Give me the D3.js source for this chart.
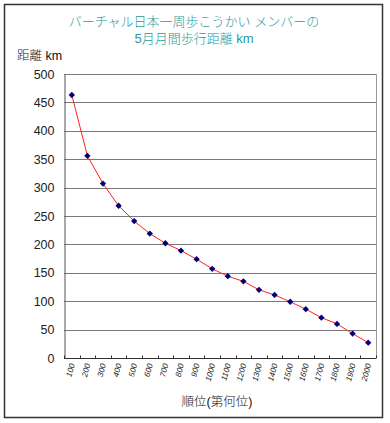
<!DOCTYPE html>
<html><head><meta charset="utf-8">
<script src="https://cdn.jsdelivr.net/npm/d3@7"></script>
<style>body{margin:0;background:#fff}svg{display:block}</style>
</head><body>
<script>
const ranks = ["100","200","300","400","500","600","700","800","900","1000","1100","1200","1300","1400","1500","1600","1700","1800","1900","2000"];
const distances = [463,356,307,268,241,219,202,189,174,157,144,135,120,111,99,86,71,60,43,27];
const yTicks = [0,50,100,150,200,250,300,350,400,450,500];
const titleLines = ["バーチャル日本一周歩こうかい メンバーの","5月月間歩行距離 km"];

const W=390,H=423;
const svg=d3.select("body").append("svg").attr("width",W).attr("height",H);
const font="'Liberation Sans', Arial, 'Noto Sans CJK JP', sans-serif";
svg.append("rect").attr("x",4.5).attr("y",4.5).attr("width",378).attr("height",413)
  .attr("fill","#fff").attr("stroke","#333").attr("stroke-width",1.5);

const L=64,R=376,T=74,B=358;
const x=d3.scaleBand().domain(ranks).range([L,R]);
const y=d3.scaleLinear().domain([0,500]).range([B,T]);

// grid
svg.append("g").selectAll("line").data(yTicks.filter(d=>d>0)).join("line")
  .attr("x1",L).attr("x2",R).attr("y1",d=>Math.round(y(d))+0.5).attr("y2",d=>Math.round(y(d))+0.5)
  .attr("stroke","#7a7a7a").attr("stroke-width",1.2);
svg.append("line").attr("x1",R+0.5).attr("x2",R+0.5).attr("y1",T).attr("y2",B).attr("stroke","#999");
const ya=svg.append("g").attr("transform",`translate(${L+0.5},0)`)
  .call(d3.axisLeft(y).tickValues(yTicks).tickSize(0).tickPadding(10));
ya.select(".domain").attr("stroke","#555");
ya.selectAll("text").attr("font-family",font).attr("font-size",12.5).attr("fill","#222");

const xa=svg.append("g").attr("transform",`translate(0,${B+0.5})`);
xa.append("line").attr("x1",L).attr("x2",R).attr("stroke","#333");
xa.selectAll("line.t").data(d3.range(ranks.length+1)).join("line").attr("class","t")
  .attr("x1",i=>Math.round(L+i*x.step())+0.5).attr("x2",i=>Math.round(L+i*x.step())+0.5)
  .attr("y1",0).attr("y2",-3).attr("stroke","#333");
xa.selectAll("text").data(ranks).join("text")
  .attr("transform",d=>`translate(${x(d)+x.bandwidth()/2+3},6) rotate(-75)`)
  .attr("text-anchor","end").attr("font-family",font).attr("font-size",8).attr("font-style","italic")
  .attr("fill","#222").text(d=>d);

const line=d3.line().x((d,i)=>x(ranks[i])+x.bandwidth()/2).y(d=>y(d));
svg.append("path").datum(distances).attr("d",line).attr("fill","none").attr("stroke","#ff2020").attr("stroke-width",1);
svg.append("g").selectAll("path").data(distances).join("path")
  .attr("d",d3.symbol().type(d3.symbolSquare).size(20))
  .attr("transform",(d,i)=>`translate(${x(ranks[i])+x.bandwidth()/2},${y(d)}) rotate(45)`)
  .attr("fill","#00007a");

svg.append("g").selectAll("text").data(titleLines).join("text")
  .attr("x",194).attr("y",(d,i)=>26+i*17).attr("text-anchor","middle")
  .attr("font-family",font).attr("font-size",13).attr("font-weight",300).attr("fill","#2a9a9a").text(d=>d);
svg.append("text").attr("x",17).attr("y",60).attr("font-family",font).attr("font-size",12.5).attr("font-weight",300).attr("fill","#111").text("距離 km");
svg.append("text").attr("x",217).attr("y",406).attr("text-anchor","middle").attr("font-family",font).attr("font-size",12.5).attr("font-weight",300).attr("fill","#111").text("順位(第何位)");
</script>
</body></html>
